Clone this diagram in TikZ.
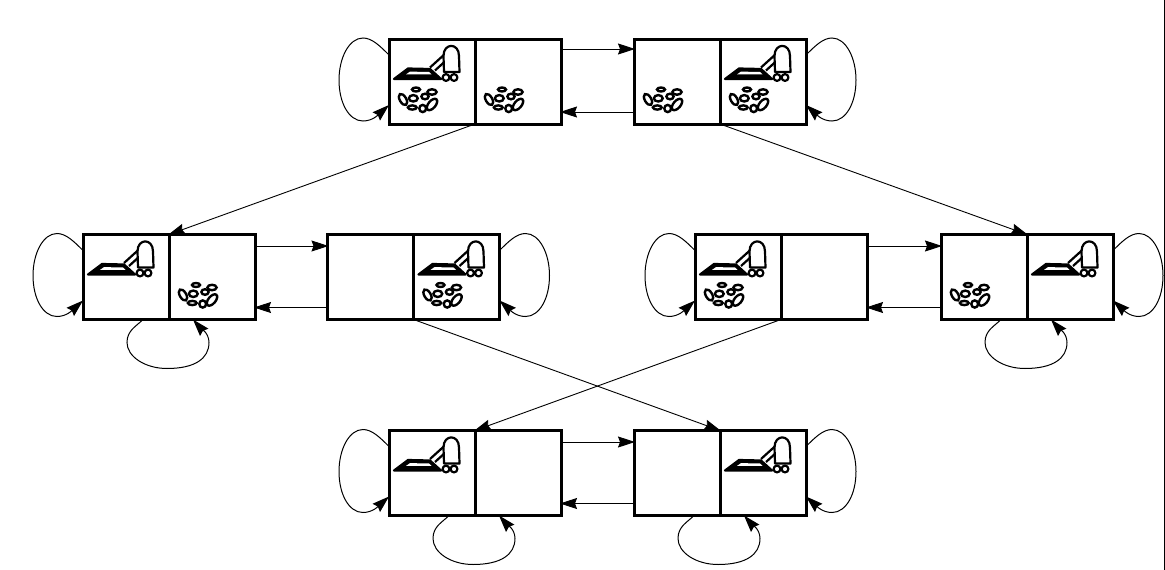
\documentclass[tikz,border=0pt]{standalone}
\usetikzlibrary{arrows.meta,calc}
\tikzset{
  cell/.style={draw,line width=3pt,minimum width=86pt,minimum height=85pt,inner sep=0pt,outer sep=0pt,anchor=north west},
  conn/.style={line width=0.9pt,-{Stealth[length=17pt,width=11pt,inset=2pt]},shorten >=-1pt},
  loopline/.style={line width=1pt,-{Stealth[length=17pt,width=11pt,inset=2pt]}},
  vacline/.style={line width=2.2pt,line join=round},
  grit/.style={line width=2.4pt,fill=white},
  vacuum/.pic={
    \draw[vacline,fill=black] (5,40) -- (19,29.5) -- (41,30) -- (52,40) -- cycle;
    \fill[white] (21,32.6) -- (40,33) -- (42.5,35.4) -- (17,35.4) -- cycle;
    \draw[vacline] (41,28.5) -- (57,14);
    \draw[vacline] (46,31.5) -- (57,21.5);
    \draw[vacline,fill=white] (55,33) -- (54.5,17) .. controls (54.5,3.5) and (70,3.5) .. (70,17) -- (70.5,33) -- cycle;
    \draw[vacline,fill=white] (57,38.5) circle (3.4) (65,38.5) circle (3.4);
  },
  dirtpile/.pic={
    \draw[grit] (27,50.5) ellipse (4 and 2);
    \draw[grit] (43,53) ellipse (4.6 and 2.7);
    \draw[grit,rotate around={-60:(14,60.5)}] (14,60.5) ellipse (6.2 and 3.2);
    \draw[grit] (24.3,59.3) ellipse (4.4 and 3.2);
    \draw[grit] (36,57.5) ellipse (3.6 and 2.8);
    \draw[grit,rotate around={50:(43,65.5)}] (43,65.5) ellipse (6.8 and 3.6);
    \draw[grit] (23.3,68.5) ellipse (4.4 and 2.1);
    \draw[grit] (33.7,69.5) ellipse (3.4 and 3.6);
  }
}
\newcommand{\tworoom}[3]{%
  \node[cell] (#1l) at (#2,#3) {};
  \node[cell] (#1r) at (#2+86,#3) {};
}
\newcommand{\leftloop}[1]{%
  \draw[loopline] ([yshift=-16pt]#1.north west) .. controls +(-9,-9) and +(9,0) .. ++(-26,-17)
    .. controls +(-14,0) and +(0,-22) .. ++(-24,42)
    .. controls +(0,23) and +(-14,0) .. ++(24,41)
    .. controls +(10,0) and +(-10,9) .. ([yshift=-66pt]#1.north west);
}
\newcommand{\rightloop}[1]{%
  \draw[loopline] ([yshift=-16pt]#1.north east) .. controls +(9,-9) and +(-9,0) .. ++(26,-17)
    .. controls +(14,0) and +(0,-22) .. ++(24,42)
    .. controls +(0,23) and +(14,0) .. ++(-24,41)
    .. controls +(-10,0) and +(10,9) .. ([yshift=-66pt]#1.north east);
}
\newcommand{\underloop}[1]{%
  \draw[loopline] ([xshift=60pt]#1.south west) .. controls +(-7,7) and +(0,-12) .. ++(-16,23)
    .. controls +(0,14) and +(-22,0) .. ++(40,26)
    .. controls +(28,0) and +(0,16) .. ++(42,-26)
    .. controls +(0,-10) and +(7,8) .. ([xshift=110pt]#1.south west);
}
\newcommand{\linkpair}[3]{%
  \draw[conn] ([yshift=-#3pt]#1r.north east) -- ([yshift=-#3pt]#2l.north west);
  \draw[conn] ([yshift=-73pt]#2l.north west) -- ([yshift=-73pt]#1r.north east);
}
\begin{document}
\begin{tikzpicture}[x=1pt,y=-1pt]
\useasboundingbox (0,0) rectangle (1165,570);
\fill[white] (0,0) rectangle (1165,570);
\draw[line width=1.6pt] (1164.4,0) -- (1164.4,570);
\tworoom{a}{389}{39}
\tworoom{b}{634}{39}
\tworoom{c}{83}{234.5}
\tworoom{d}{327.5}{234.5}
\tworoom{e}{695}{234.5}
\tworoom{f}{941}{234.5}
\tworoom{g}{389}{430.5}
\tworoom{h}{634}{430.5}
% contents
\pic at (al.north west) {vacuum};
\pic at (al.north west) {dirtpile};
\pic at (ar.north west) {dirtpile};
\pic at (bl.north west) {dirtpile};
\pic at (br.north west) {vacuum};
\pic at (br.north west) {dirtpile};
\pic at (cl.north west) {vacuum};
\pic at (cr.north west) {dirtpile};
\pic at (dr.north west) {vacuum};
\pic at (dr.north west) {dirtpile};
\pic at (el.north west) {vacuum};
\pic at (el.north west) {dirtpile};
\pic at (fl.north west) {dirtpile};
\pic at (fr.north west) {vacuum};
\pic at (gl.north west) {vacuum};
\pic at (hr.north west) {vacuum};
% horizontal links
\linkpair{a}{b}{10}
\linkpair{c}{d}{11.5}
\linkpair{e}{f}{11.5}
\linkpair{g}{h}{11.5}
% long links
\draw[conn] (ar.south west) -- (cr.north west);
\draw[conn] (br.south west) -- (fr.north west);
\draw[conn] (dr.south west) -- (hr.north west);
\draw[conn] (er.south west) -- (gr.north west);
% self loops
\leftloop{al}\rightloop{br}
\leftloop{cl}\rightloop{dr}
\leftloop{el}\rightloop{fr}
\leftloop{gl}\rightloop{hr}
\underloop{cl}\underloop{fl}\underloop{gl}\underloop{hl}
\end{tikzpicture}
\end{document}
